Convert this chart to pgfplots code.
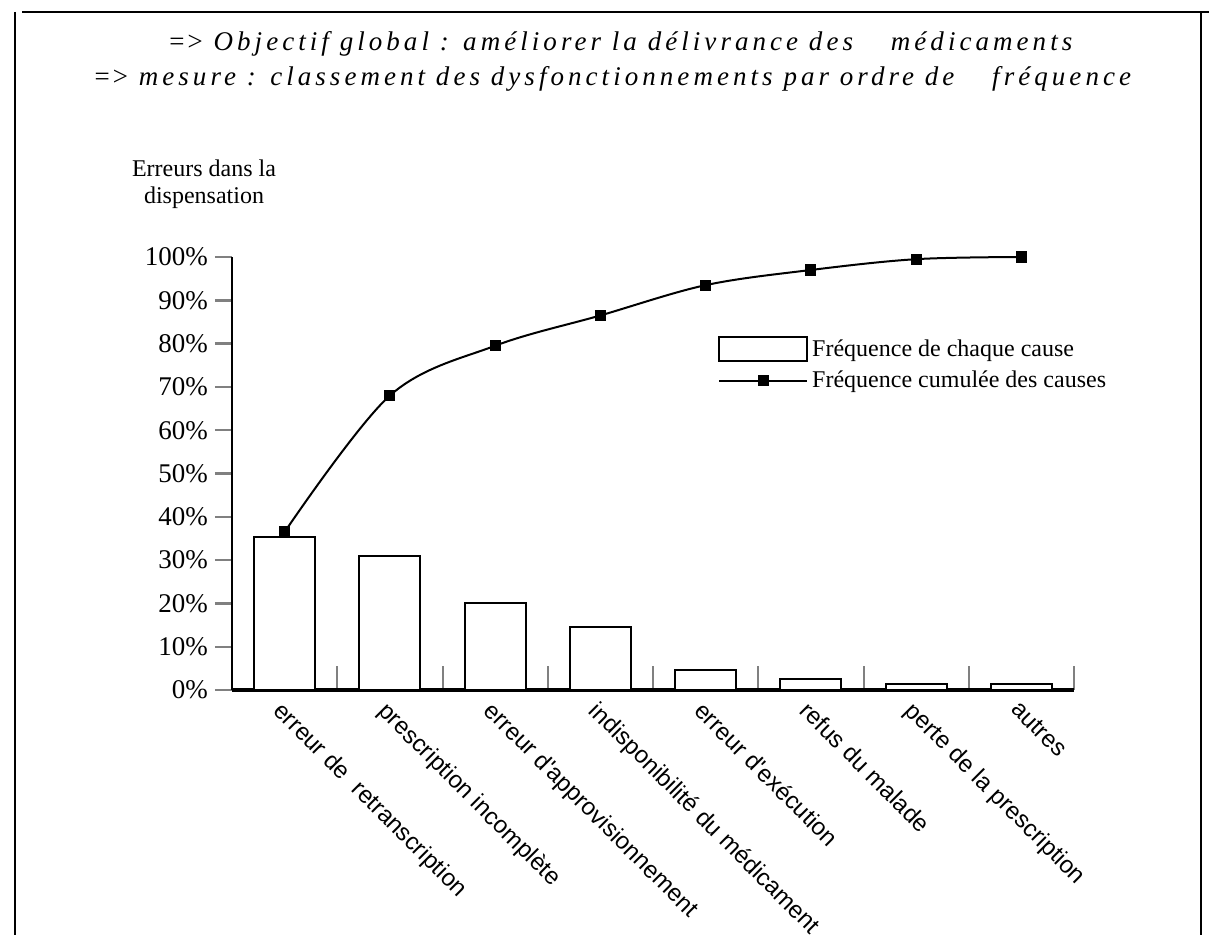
\documentclass[border=0pt]{standalone}
\usepackage{pgfplots}
\pgfplotsset{compat=1.18}
\usepackage{fontspec}
\setmainfont{Liberation Serif}
\newfontfamily\labfont{Liberation Sans}
\newfontfamily\titlefont[LetterSpace=15]{Liberation Serif}
\newcommand{\arr}{{\addfontfeature{LetterSpace=0}=>}\hspace{0.35em}}

\pgfplotsset{
    barleg/.style={legend image code/.code={\draw[black, line width=0.8pt, fill=white] (0pt,-6pt) rectangle (44pt,6pt);}},
    lineleg/.style={legend image code/.code={\draw[mark repeat=2, mark phase=2, ##1] plot coordinates {(0pt,0pt) (22pt,0pt) (44pt,0pt)};}},
}

\begin{document}
\begin{tikzpicture}
\useasboundingbox (0,0) rectangle (604.5pt,-467.5pt);

\begin{axis}[
    at={(116pt,-345pt)}, anchor=origin,
    scale only axis, width=421pt, height=216.5pt,
    xmin=0, xmax=8, ymin=0, ymax=100,
    clip=false,
    axis x line=bottom, axis y line=left,
    x axis line style={-, line width=2pt},
    y axis line style={-, line width=1.2pt},
    xtick={0.5,1.5,...,7.5},
    xticklabels={erreur de\ \ retranscription, prescription incomplète,
        erreur d'approvisionnement, indisponibilité du médicament,
        erreur d'exécution, refus du malade, perte de la prescription, autres},
    major x tick style={draw=none},
    minor xtick={1,2,...,8},
    minor x tick style={line width=1pt},
    minor tick length=12pt,
    xtick align=inside,
    ytick={0,10,...,100},
    ytick align=outside,
    major tick length=8.5pt,
    ytick style={line width=1.2pt},
    /pgf/number format/assume math mode=true,
    yticklabel={\pgfmathprintnumber{\tick}\%},
    yticklabel style={font=\fontsize{13.5}{14}\selectfont},
    xticklabel style={rotate=-45, anchor=north west, font=\labfont\fontsize{12}{12}\selectfont},
    legend style={draw=none, fill=none, at={(0.577,0.82)}, anchor=north west,
        font=\fontsize{12}{12}\selectfont, row sep=2pt, inner sep=0pt},
    legend cell align=left,
]

% frequence de chaque cause
\addplot[ybar, bar width=0.58, fill=white, draw=black, line width=1pt, barleg]
    coordinates {
    (0.5,35.3)(1.5,30.9)(2.5,20.1)(3.5,14.5)(4.5,4.6)(5.5,2.5)(6.5,1.4)(7.5,1.4)
    };
\addlegendentry{Fréquence de chaque cause}

% frequence cumulee
\addplot[black, smooth, tension=0.55, line width=1pt, mark=square*, mark size=2.3pt, lineleg]
    coordinates {
    (0.5,36.5)(1.5,68)(2.5,79.5)(3.5,86.5)(4.5,93.5)(5.5,97)(6.5,99.5)(7.5,100)
    };
\addlegendentry{Fréquence cumulée des causes}
\end{axis}

\begin{scope}[x=0.5pt, y=-0.5pt]
\draw[line width=1pt] (22,12) -- (1209,12);
\draw[line width=0.8pt] (15,12) -- (15,935);
\draw[line width=0.8pt] (1201,12) -- (1201,935);
\node[font=\titlefont\itshape\fontsize{13.5}{13.5}\selectfont] at (620,44)
    {\arr Objectif global : améliorer la délivrance des\hspace{1em} médicaments};
\node[font=\titlefont\itshape\fontsize{13.5}{13.5}\selectfont] at (612,79)
    {\arr mesure : classement des dysfonctionnements par ordre de\hspace{1em} fréquence};
\node[align=center, font=\fontsize{12}{13.5}\selectfont] at (204,184)
    {Erreurs dans la\\dispensation};
\end{scope}
\end{tikzpicture}
\end{document}
